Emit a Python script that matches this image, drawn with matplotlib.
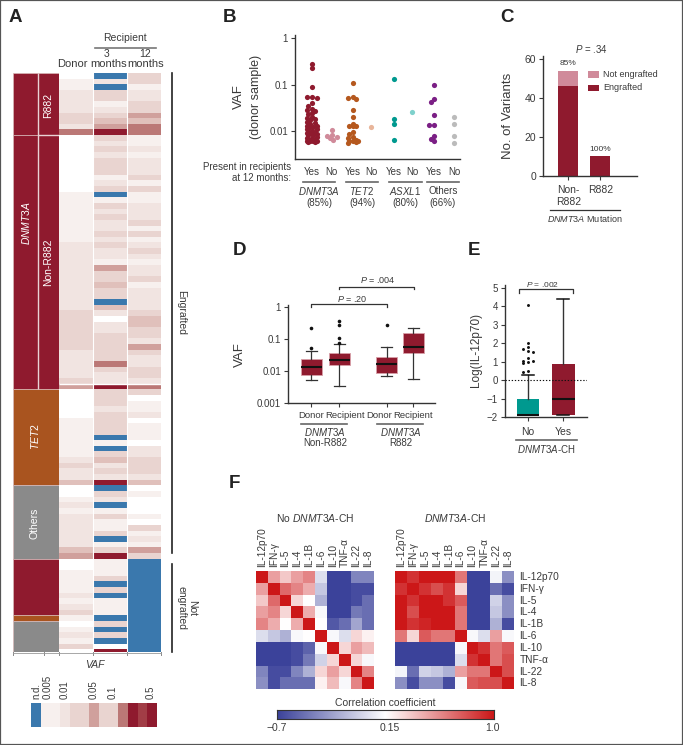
import numpy as np
import matplotlib
matplotlib.use('Agg')
import matplotlib.pyplot as plt
from matplotlib.colors import ListedColormap, BoundaryNorm, LinearSegmentedColormap
from matplotlib.patches import Rectangle

plt.rcParams['font.family'] = ['Liberation Sans', 'DejaVu Sans']
plt.rcParams['mathtext.fontset'] = 'custom'
plt.rcParams['mathtext.it'] = 'Liberation Sans:italic'
plt.rcParams['mathtext.rm'] = 'Liberation Sans'

W, H = 683, 745
DARK = '#8f1a2e'
PINK = '#d08a9a'
TXT = '#3a3a3a'

# panel A, shade level per row, -1 is n.d.
donor = [0, 1, 1, 2, 2, 2, 2, 3, 3, 2, 6,
         0, 0, 0, 0, 0, 0, 0, 0, 0, 0, 1, 1, 1, 1, 1, 1, 1, 1, 1, 2,
         2, 2, 2, 2, 2, 2, 2, 2, 2, 2, 2, 3, 3, 3, 3, 3, 3, 3, 2, 2, 2, 2, 2, 3, 5,
         0, 0, 0, 0, 0, 1, 1, 1, 1, 1, 1, 1, 2, 3, 2, 2, 4,
         0, 0, 1, 2, 1, 2, 2, 2, 2, 2, 2, 4, 5,
         0, 0, 1, 1, 1, 1, 2, 1, 2, 3, 1, 0, 1, 2, 1, 3, 0]
month3 = [-1, 2, -1, 3, 3, 1, 2, 3, 4, 5, 7,
          3, 2, 3, 2, 3, 3, 3, 1, 2, 3, -1, 1, 3, 2, 3, 2, 2, 3, 2, 3,
          2, 2, 1, 5, 3, 3, 4, 3, 3, -1, 4, 2, 0, 2, 2, 3, 3, 3, 3, 3, 6, 3, 2, 2, 7,
          3, 3, 3, 2, 3, 3, 3, 3, -1, 1, -1, 3, 4, 2, 3, 2, 7,
          -1, 3, 2, -1, 1, 3, 1, 1, 3, -1, 1, 3, 7,
          1, 1, 1, 3, -1, 3, -1, 1, 1, 1, -1, 3, -1, 3, -1, 0, 7]
month12 = [3, 3, 1, 2, 2, 3, 3, 5, 4, 6, 6,
           1, 1, 2, 1, 2, 2, 2, 3, 1, 3, 1, 1, 2, 2, 2, 3, 1, 3, 1, 2,
           3, 2, 1, 2, 2, 3, 1, 2, 2, 2, 2, 3, 4, 4, 3, 3, 2, 5, 3, 2, 2, 3, 3, 2, 6,
           3, 0, 1, 1, 2, 0, 1, 1, 1, 0, 2, 2, 3, 3, 3, 2, 4,
           0, 1, 0, 0, 0, 1, 0, 3, 1, 2, 1, 5, 3,
           -1, -1, -1, -1, -1, -1, -1, -1, -1, -1, -1, -1, -1, -1, -1, -1, -1]
shade_colors = ['#3a78ad', '#ffffff', '#f7f0ee', '#f1e4e1', '#e9d4d0', '#e0c0bb', '#d0a09c', '#bb7876', DARK]
legend_levels = [-1, 1, 1, 2, 3, 3, 5, 3, 3, 6, 7, 'mid', 7]

# strips, (first row, rows, colour)
gene_rows = [(0, 11, 'r882'), (11, 45, 'nonr882'), (56, 17, 'tet2'), (73, 13, 'others'),
             (86, 10, 'dnmt'), (96, 1, 'tet2'), (97, 6, 'others')]
gene_colors = {'r882': DARK, 'nonr882': DARK, 'dnmt': DARK, 'tet2': '#a9541f', 'others': '#8a8a8a'}

# panel B
dnmt3a_yes = [.28, .23, .09, .055, .055, .052, .04, .035, .03, .028, .027, .025, .023, .02, .019, .018, .017,
              .016, .015, .014, .013, .013, .012, .012, .011, .011, .01, .01, .0095, .009, .009, .0085, .008,
              .008, .0075, .007, .007, .0065, .0065, .0063, .0062, .006, .006, .006, .0058, .0058]
dnmt3a_no = [.0105, .008, .0078, .0075, .0072, .0065]
tet2_yes = [.11, .055, .052, .05, .029, .02, .0145, .013, .013, .0125, .0095, .0085, .0075, .007, .0065,
            .006, .006, .006, .0058, .0055]
tet2_no = [.012]
asxl1_yes = [.135, .018, .014, .0063]
asxl1_no = [.026]
others_yes = [.1, .05, .042, .022, .0135, .0135, .0078, .0068, .0062]
others_no = [.02, .014, .0078, .0055]

# panel C
c_groups = ['Non-\nR882', 'R882']
c_engrafted = [46, 10]
c_not_engrafted = [8, 0]
c_pct = ['85%', '100%']

# panel D
d_stats = [
    dict(med=.0129, q1=.0072, q3=.024, whislo=.005, whishi=.042, fliers=[.225, .053]),
    dict(med=.0224, q1=.0148, q3=.035, whislo=.00326, whishi=.069, fliers=[.365, .28, .107, .076]),
    dict(med=.0163, q1=.0083, q3=.027, whislo=.0067, whishi=.054, fliers=[.273]),
    dict(med=.054, q1=.036, q3=.157, whislo=.0054, whishi=.214, fliers=[]),
]

# panel E
e_stats = [
    dict(med=-1.85, q1=-1.85, q3=-1.02, whislo=-1.85, whishi=.27, fliers=[]),
    dict(med=-1.0, q1=-1.85, q3=.87, whislo=-1.85, whishi=4.38, fliers=[]),
]
e_outliers = [4.07, 2.03, 1.78, 1.7, 1.6, 1.55, 1.2, 1.05, 1.05, .98, .95, .5, .45]

# panel F
cytokines = ['IL-12p70', 'IFN-γ', 'IL-5', 'IL-4', 'IL-1B', 'IL-6', 'IL-10', 'TNF-α', 'IL-22', 'IL-8']
corr_no = [
    [1, .5, .35, .5, .6, 0, -.7, -.7, -.4, -.4],
    [.5, 1, .7, .6, .45, -.1, -.7, -.7, -.65, -.65],
    [.35, .7, 1, .3, .15, -.2, -.7, -.7, -.65, -.5],
    [.5, .6, .3, 1, .45, .12, -.7, -.7, -.45, -.5],
    [.6, .45, .15, .45, 1, .15, -.6, -.5, -.25, -.5],
    [0, -.1, -.2, .12, .15, 1, .12, 0, .3, .2],
    [-.7, -.7, -.7, -.65, -.55, .12, 1, .3, .5, .4],
    [-.7, -.7, -.7, -.65, -.45, -.05, .3, 1, .3, .12],
    [-.4, -.65, -.65, -.4, -.2, .3, .5, .3, 1, .6],
    [-.35, -.65, -.5, -.5, -.5, .2, .4, .12, .6, 1],
]
corr_yes = [
    [1, .9, 1, 1, 1, .65, -.7, -.7, .1, -.35],
    [.9, 1, .9, .8, .9, .3, -.7, -.7, -.5, -.65],
    [1, .9, 1, 1, .9, .75, -.7, -.7, -.05, -.35],
    [1, .8, 1, 1, 1, .65, -.7, -.7, -.1, -.35],
    [1, .9, .95, 1, 1, .65, -.7, -.7, -.2, -.65],
    [.65, .3, .75, .65, .65, 1, .12, 0, .5, .12],
    [-.7, -.7, -.7, -.7, -.7, .12, 1, .9, .65, .75],
    [-.7, -.7, -.7, -.7, -.7, 0, .9, 1, .65, .8],
    [.1, -.5, -.05, -.1, -.2, .5, .65, .65, 1, .8],
    [-.35, -.65, -.35, -.35, -.65, .12, .75, .8, .8, 1],
]

fig = plt.figure(figsize=(W / 100, H / 100), dpi=100)


def px_axes(l, t, r, b):
    return fig.add_axes([l / W, 1 - b / H, (r - l) / W, (b - t) / H])


def txt(x, y, s, size=7, ha='center', va='center', **kw):
    kw.setdefault('color', TXT)
    return fig.text(x / W, 1 - y / H, s, fontsize=size, ha=ha, va=va, **kw)


def line(xs, ys, color='#555555', lw=1.0, **kw):
    fig.add_artist(plt.Line2D([x / W for x in xs], [1 - y / H for y in ys], color=color, lw=lw, **kw))


def prism_axes(ax):
    ax.spines['top'].set_visible(False)
    ax.spines['right'].set_visible(False)
    ax.spines['left'].set_color('#333333')
    ax.spines['bottom'].set_color('#333333')
    ax.spines['left'].set_linewidth(1.0)
    ax.spines['bottom'].set_linewidth(1.0)
    ax.tick_params(colors=TXT, labelsize=7, length=3, width=.8, pad=2)
    ax.patch.set_alpha(0)


def swarm(ys, slots, min_dist):
    # x offset in pixels for each point, first slot that is clear, else the clearest one
    placed = []
    for y in ys:
        best, best_d = slots[0], -1
        for off in slots:
            d = min([np.hypot(off - o, y - p) for o, p in placed] or [99])
            if d >= min_dist:
                best, best_d = off, d
                break
            if d > best_d:
                best, best_d = off, d
        placed.append((best, y))
    return [p[0] for p in placed]


# frame round the page
fig.add_artist(Rectangle((0, 0), 1, 1, transform=fig.transFigure, fill=False, ec='#555555', lw=1.6))

for label, x, y in [('A', 15, 17), ('B', 229, 17), ('C', 507, 17), ('D', 239, 251), ('E', 474, 251), ('F', 234, 483)]:
    txt(x, y, label, size=13.5, weight='bold', color='#222222')

# ---- A
ax = px_axes(59, 73, 161, 652)
heat = np.array([donor, month3, month12]).T
cmap = ListedColormap(shade_colors)
norm = BoundaryNorm(np.arange(-1.5, 8), cmap.N)
ax.pcolormesh(np.arange(4), np.arange(len(donor) + 1), heat, cmap=cmap, norm=norm)
ax.set_ylim(102.5, 0)
ax.set_xlim(0, 3)
ax.axvline(1, color='white', lw=.8)
ax.axvline(2, color='white', lw=.8)
ax.hlines([55], 0, 3, color='white', lw=1)
ax.axis('off')

ax = px_axes(13, 73, 58.5, 652)
for first, n, kind in gene_rows:
    ax.barh(first + n / 2, 1, height=n, color=gene_colors[kind], edgecolor='#d8b8b8', lw=.5)
ax.set_xlim(0, 1)
ax.set_ylim(102.5, 0)
ax.vlines(.56, 0, 56, color='#e9d3d5', lw=1)
ax.hlines(11, .56, 1, color='#e9d3d5', lw=1)
ax.axis('off')

txt(25.5, 223, r'$\mathit{DNMT3A}$', size=7.5, rotation=90, color='white')
txt(48.5, 105, 'R882', size=7.5, rotation=90, color='white')
txt(48.5, 262, 'Non-R882', size=7.5, rotation=90, color='white')
txt(35, 437, r'$\mathit{TET2}$', size=7.5, rotation=90, color='white')
txt(35, 523, 'Others', size=7.5, rotation=90, color='white')
txt(125, 38, 'Recipient', size=7.5)
line([95, 156], [48, 48], lw=1.2, color='#777777')
txt(107, 54, '3', size=7.5)
txt(145, 54, '12', size=7.5)
txt(72, 64, 'Donor', size=8)
txt(108.5, 64, 'months', size=8)
txt(145.5, 64, 'months', size=8)
line([172, 172], [73, 553], color='#222222', lw=1.2)
line([172, 172], [564, 652], color='#222222', lw=1.2)
txt(181, 313, 'Engrafted', size=7.5, rotation=-90)
txt(187, 608, 'Not\nengrafted', size=7.5, rotation=-90, linespacing=1.1)
for x in [13, 44, 59, 93, 127, 161]:
    line([x, x], [652, 654.5], color='#888888', lw=.7)
line([13, 161], [652.5, 652.5], color='#999999', lw=.6)
txt(95, 665, 'VAF', size=7.5, style='italic')

# legend strip under A
ax = px_axes(31, 703, 157, 727)
for i, lev in enumerate(legend_levels):
    c = '#a23d46' if lev == 'mid' else shade_colors[lev + 1]
    ax.bar(i + .5, 1, width=1, color=c)
ax.set_xlim(0, len(legend_levels))
ax.set_ylim(0, 1)
ax.axis('off')
for x, s in [(36, 'n.d.'), (48, '0.005'), (65, '0.01'), (94, '0.05'), (113, '0.1'), (151, '0.5')]:
    txt(x, 699, s, rotation=90, va='bottom')

# ---- B
decade = 46.3
ax = px_axes(295, 35, 460, 159)
prism_axes(ax)
ax.set_yscale('log')
ax.set_xlim(295, 460)
ax.set_ylim(10 ** (-2 - 28 / decade), 10 ** (3.3 / decade))
b_xpos = [311.7, 331.7, 352.7, 371.3, 394.3, 412, 434, 454]
b_series = [dnmt3a_yes, dnmt3a_no, tet2_yes, tet2_no, asxl1_yes, asxl1_no, others_yes, others_no]
b_colors = [DARK, PINK, '#b5581e', '#e8b59a', '#00998f', '#7fd1cc', '#7b1f85', '#bbbbbb']
b_slots = [0, -3.3, 3.3, -1.7, 1.7, -5, 5]
for xp, vals, col in zip(b_xpos, b_series, b_colors):
    offs = swarm(np.log10(vals) * decade, b_slots, 3.6)
    ax.scatter(np.array(offs) + xp, vals, s=14, color=col, lw=0, zorder=3)
ax.set_yticks([1, .1, .01], ['1', '0.1', '0.01'])
ax.minorticks_off()
ax.set_xticks(b_xpos, [])
ax.tick_params(axis='x', length=0)
for x, s in zip(b_xpos, ['Yes', 'No'] * 4):
    txt(x, 172, s)
txt(291, 172.5, 'Present in recipients\nat 12 months:', ha='right', linespacing=1.2)
for x0, x1, name, pct in [(303, 335, r'$\mathit{DNMT3A}$', '(85%)'), (346, 378, r'$\mathit{TET2}$', '(94%)'),
                          (389, 422, r'$\mathit{ASXL1}$', '(80%)'), (427, 459, 'Others', '(66%)')]:
    line([x0, x1], [182, 182], lw=1.2, color='#666666')
    txt((x0 + x1) / 2, 191, name)
    txt((x0 + x1) / 2, 203, pct)
txt(239, 97, 'VAF', size=9.5, rotation=90)
txt(256.5, 97, '(donor sample)', size=9, rotation=90)

# ---- C
ax = px_axes(543, 56, 636.7, 175.7)
prism_axes(ax)
c_x = [568.2, 600.3]
ax.bar(c_x, c_engrafted, width=20.3, color=DARK)
ax.bar(c_x, c_not_engrafted, bottom=c_engrafted, width=20.3, color=PINK)
ax.set_xlim(543, 636.7)
ax.set_ylim(0, 61.6)
ax.set_yticks([0, 20, 40, 60])
ax.set_xticks(c_x, c_groups, linespacing=1.25)
ax.tick_params(axis='y', labelsize=7.5)
ax.tick_params(axis='x', labelsize=7.5, pad=4)
for x, v, n, s in zip(c_x, c_engrafted, c_not_engrafted, c_pct):
    ax.text(x, v + n + 1.8, s, ha='center', va='bottom', fontsize=6, color=TXT, clip_on=False)
txt(591, 49, r'$\mathit{P}$ = .34')
for y, c, s in [(74.5, PINK, 'Not engrafted'), (88, DARK, 'Engrafted')]:
    fig.add_artist(Rectangle((588 / W, 1 - (y + 3.3) / H), 10.7 / W, 6.6 / H, transform=fig.transFigure, fc=c, ec='none'))
    txt(603, y, s, size=6.5, ha='left')
line([550, 620], [210, 210], lw=.9, color='#333333')
txt(585, 218.5, r'$\mathit{DNMT3A}$ Mutation', size=6.5)
txt(508, 116, 'No. of Variants', size=9.5, rotation=90)

# ---- D
ax = px_axes(288, 305, 435, 402.7)
prism_axes(ax)
ax.set_yscale('log')
d_x = [311.3, 339, 386.7, 413.3]
ax.set_xlim(288, 435)
ax.set_ylim(.001, 10 ** (2 / 32))
ax.bxp(d_stats, positions=d_x, widths=21, patch_artist=True, manage_ticks=False,
       boxprops=dict(facecolor=DARK, edgecolor='#d8a0a8', lw=.6),
       medianprops=dict(color='#111111', lw=1.5),
       whiskerprops=dict(color='#333333', lw=.9), capprops=dict(color='#333333', lw=.9), capwidths=11,
       flierprops=dict(marker='o', ms=2.6, mfc='#111111', mec='none'))
ax.set_yticks([1, .1, .01, .001], ['1', '0.1', '0.01', '0.001'])
ax.minorticks_off()
ax.set_xticks(d_x, [])
for x, s in zip([311, 345, 378.7, 412.7], ['Donor', 'Recipient', 'Donor', 'Recipient']):
    txt(x, 415, s, size=6.8)
for x0, x1, sub in [(300.7, 347, 'Non-R882'), (376.7, 423.3, 'R882')]:
    line([x0, x1], [423.7, 423.7], lw=1.2, color='#666666')
    txt((x0 + x1) / 2 + 1, 432.5, r'$\mathit{DNMT3A}$')
    txt((x0 + x1) / 2 + 1, 442.5, sub)
line([310.7, 310.7, 387, 387], [306.7, 304, 304, 306.7], lw=.9, color='#333333')
line([339, 339, 413.7, 413.7], [289.4, 286.7, 286.7, 289.4], lw=.9, color='#333333')
txt(352, 298.7, r'$\mathit{P}$ = .20', size=6.5)
txt(378, 280, r'$\mathit{P}$ = .004', size=6.5)
txt(240, 355, 'VAF', size=9.5, rotation=90)

# ---- E
ax = px_axes(504.7, 285, 586.7, 417.3)
prism_axes(ax)
e_x = [528, 563.3]
ax.set_xlim(504.7, 586.7)
ax.set_ylim(-2, 5 + 2.7 / 18.53)
parts = ax.bxp(e_stats, positions=e_x, widths=22.7, patch_artist=True, manage_ticks=False,
               boxprops=dict(edgecolor='none'),
               medianprops=dict(color='#111111', lw=1.5),
               whiskerprops=dict(color='#333333', lw=1), capprops=dict(color='#111111', lw=1.1), capwidths=12,
               showfliers=False)
parts['boxes'][0].set_facecolor('#00998f')
parts['boxes'][1].set_facecolor(DARK)
offs = swarm(np.array(e_outliers) * 18.53, [0, -4.7, 4.7], 3.2)
ax.scatter(np.array(offs) + e_x[0], e_outliers, s=4.5, color='#111111', lw=0, zorder=3)
ax.axhline(0, color='#111111', lw=.8, ls=(0, (1.2, 1.6)), zorder=4)
ax.set_yticks([-2, -1, 0, 1, 2, 3, 4, 5], ['−2', '−1', '0', '1', '2', '3', '4', '5'])
ax.set_xticks(e_x, ['No', 'Yes'])
ax.tick_params(axis='x', labelsize=7.5, pad=4)
line([519.3, 519.3, 573.3, 573.3], [293, 289.3, 289.3, 293], lw=.9, color='#333333')
txt(542.7, 284.3, r'$\mathit{P}$ = .002', size=6)
line([516, 577], [439.7, 439.7], lw=1.2, color='#666666')
txt(546, 449, r'$\mathit{DNMT3A}$-CH')
txt(475.7, 350, 'Log(IL-12p70)', size=8.5, rotation=90)

# ---- F
corr_cmap = LinearSegmentedColormap.from_list('corr', ['#3b429a', '#ffffff', '#cc1718'])
for (l, r), mat, title, cx in [((256, 374.3), corr_no, r'No $\mathit{DNMT3A}$-CH', 315),
                               ((395.3, 514), corr_yes, r'$\mathit{DNMT3A}$-CH', 455)]:
    ax = px_axes(l, 571, r, 689.3)
    ax.pcolormesh(np.array(mat)[::-1], cmap=corr_cmap, vmin=-.7, vmax=1.0)
    ax.set_xticks(np.arange(10) + .5, cytokines, rotation=90, fontsize=7.3, color=TXT)
    ax.xaxis.tick_top()
    ax.tick_params(length=0, pad=3)
    ax.set_yticks([])
    for s in ax.spines.values():
        s.set_visible(False)
    txt(cx, 517.7, title, size=7.5)
for i, s in enumerate(cytokines):
    txt(519.3, 571 + 11.83 * (i + .5), s, size=7.3, ha='left')

ax = px_axes(277.3, 710.3, 494, 719)
ax.imshow(np.linspace(-.7, 1, 256)[None, :], aspect='auto', cmap=corr_cmap, vmin=-.7, vmax=1)
ax.set_xticks([])
ax.set_yticks([])
for s in ax.spines.values():
    s.set_color('#333333')
    s.set_linewidth(.8)
txt(385, 703, 'Correlation coefficient', size=7.5)
txt(276.7, 727.7, '−0.7', size=7.5)
txt(390, 727.7, '0.15', size=7.5)
txt(492.7, 727.7, '1.0', size=7.5)

fig.savefig('out.png', dpi=100)
